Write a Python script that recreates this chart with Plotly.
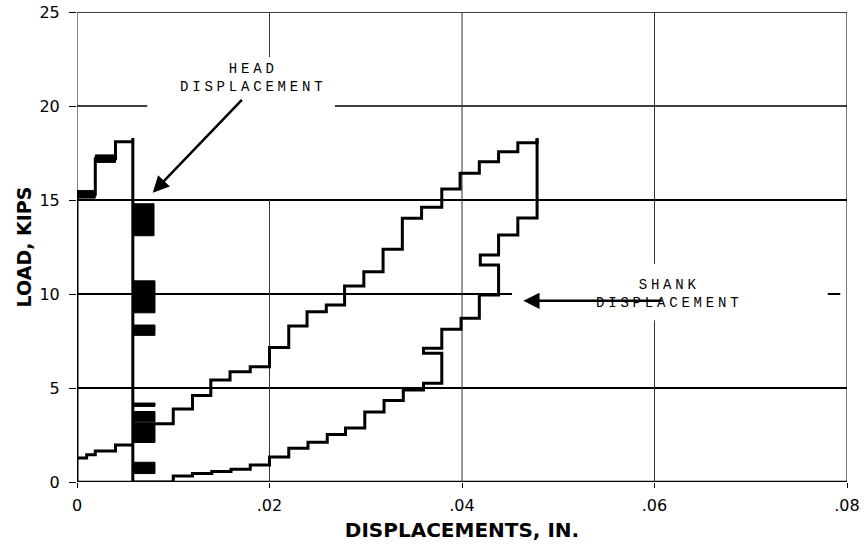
import plotly.graph_objects as go

# ---------------- data ----------------
x_tick_vals = [0, 0.02, 0.04, 0.06, 0.08]
x_tick_labels = ["0", ".02", ".04", ".06", ".08"]
y_tick_vals = [0, 5, 10, 15, 20, 25]
y_tick_labels = ["0", "5", "10", "15", "20", "25"]

# head displacement, loading branch (step points, drawn horizontal-then-vertical)
head_load_x = [0, 0, 0.0019, 0.0040, 0.0058, 0.0058]
head_load_y = [0, 15.3, 17.2, 18.1, 18.3, 0]

# head displacement, low-load branch
head_low_x = [0, 0.0010, 0.0019, 0.0040, 0.0058]
head_low_y = [1.27, 1.45, 1.65, 1.97, 1.97]

# shank displacement, loading branch
shank_load_x = [0.0081, 0.0100, 0.0120, 0.0139, 0.0159, 0.0180, 0.0200, 0.0220,
                0.0239, 0.0259, 0.0278, 0.0298, 0.0318, 0.0338, 0.0358, 0.0379,
                0.0398, 0.0418, 0.0438, 0.0458, 0.0478]
shank_load_y = [3.1, 3.88, 4.6, 5.42, 5.87, 6.13, 7.16, 8.3,
                9.06, 9.41, 10.43, 11.19, 12.38, 14.03, 14.61, 15.59,
                16.42, 17.04, 17.57, 18.05, 18.28]

# shank displacement, unloading branch
shank_unload_x = [0.0478, 0.0478, 0.0458, 0.0438, 0.0419, 0.0438, 0.0418, 0.0399,
                  0.0379, 0.0360, 0.0379, 0.0360, 0.0339, 0.0319, 0.0299, 0.0279,
                  0.0260, 0.0240, 0.0220, 0.0200, 0.0180, 0.0160, 0.0140, 0.0120,
                  0.0100, 0.0058]
shank_unload_y = [18.28, 14.04, 13.14, 12.07, 11.54, 9.95, 8.71, 8.12,
                  7.11, 6.85, 5.25, 4.9, 4.33, 3.72, 2.87, 2.52,
                  2.12, 1.8, 1.33, 0.9, 0.68, 0.56, 0.45, 0.32,
                  0.0, 0.0]

# dense (inked) segments of the recorded trace: x-from, x-to, load-from, load-to
blob_x0 = [0.0, 0.0019, 0.0059, 0.0059, 0.0059, 0.0059, 0.0059, 0.0059, 0.0059]
blob_x1 = [0.0019, 0.0040, 0.0080, 0.0081, 0.0081, 0.0081, 0.0081, 0.0081, 0.0081]
blob_y0 = [15.1, 17.0, 13.1, 9.0, 7.8, 4.02, 3.2, 2.1, 0.45]
blob_y1 = [15.5, 17.4, 14.8, 10.7, 8.35, 4.2, 3.75, 3.15, 1.05]

# ---------------- figure ----------------
fig = go.Figure()
ink = "#000000"
LW = 3

for xs, ys in [(head_load_x, head_load_y), (head_low_x, head_low_y),
               (shank_load_x, shank_load_y), (shank_unload_x, shank_unload_y)]:
    fig.add_trace(go.Scatter(x=xs, y=ys, mode="lines", line=dict(color=ink, width=LW, shape="hv"),
                             cliponaxis=False, showlegend=False, hoverinfo="skip"))

bx, by = [], []
for x0, x1, y0, y1 in zip(blob_x0, blob_x1, blob_y0, blob_y1):
    bx += [x0, x1, x1, x0, x0, None]
    by += [y0, y0, y1, y1, y0, None]
fig.add_trace(go.Scatter(x=bx, y=by, mode="lines", fill="toself", fillcolor=ink,
                         line=dict(color=ink, width=1), cliponaxis=False,
                         showlegend=False, hoverinfo="skip"))

# frame and grid segments (with the gaps seen in the original)
def seg(x0, y0, x1, y1, w, c="#000000"):
    fig.add_shape(type="line", xref="x", yref="y", x0=x0, y0=y0, x1=x1, y1=y1,
                  line=dict(color=c, width=w), layer="below")

seg(0, 25, 0.08, 25, 1.5)
seg(0.08, 0, 0.08, 25, 1.2, "#222")
seg(0, 0, 0, 25, 1.2, "#333")
seg(0, 0, 0.08, 0, 2.5)
seg(0, 20, 0.0073, 20, 1.5)
seg(0.0268, 20, 0.08, 20, 1.5)
seg(0, 15, 0.08, 15, 2)
seg(0, 10, 0.0452, 10, 2)
seg(0.0780, 10, 0.0793, 10, 2)
seg(0, 5, 0.08, 5, 2)
seg(0.02, 0, 0.02, 15, 1, "#333")
seg(0.02, 22.6, 0.02, 25, 1, "#333")
seg(0.04, 0, 0.04, 25, 1, "#333")
seg(0.06, 0, 0.06, 8.6, 1, "#333")
seg(0.06, 11.6, 0.06, 25, 1, "#333")

mono = dict(family="Liberation Mono", size=14, color=ink)
def label(txt, x, y):
    fig.add_annotation(x=x, y=y, xref="x", yref="y", showarrow=False,
                       text='<span style="letter-spacing:3.8px">' + txt + '</span>',
                       font=mono, xanchor="center", yanchor="middle", align="center")

label("HEAD<br>DISPLACEMENT", 0.01830, 21.5)
label("SHANK<br>DISPLACEMENT", 0.06150, 10.0)

fig.add_annotation(x=0.00787, y=15.39, ax=0.01728, ay=20.41, xref="x", yref="y",
                   axref="x", ayref="y", text="", showarrow=True, arrowhead=2,
                   arrowsize=1.3, arrowwidth=2.5, arrowcolor=ink)
fig.add_annotation(x=0.04637, y=9.64, ax=0.06091, ay=9.64, xref="x", yref="y",
                   axref="x", ayref="y", text="", showarrow=True, arrowhead=2,
                   arrowsize=1.3, arrowwidth=2.5, arrowcolor=ink)

tickfont = dict(family="DejaVu Sans", size=16, color=ink)
titlefont = dict(family="DejaVu Sans", size=20, color=ink, weight="bold")

fig.update_layout(
    width=864, height=550,
    margin=dict(l=77, r=17, t=12, b=68),
    paper_bgcolor="white", plot_bgcolor="white",
    xaxis=dict(range=[0, 0.08], tickvals=x_tick_vals, ticktext=x_tick_labels,
               ticks="outside", ticklen=5, tickwidth=1, tickcolor=ink,
               tickfont=tickfont, showgrid=False, zeroline=False, showline=False,
               ticklabelstandoff=4, automargin=False,
               title=dict(text="DISPLACEMENTS, IN.", font=titlefont, standoff=8)),
    yaxis=dict(range=[0, 25], tickvals=y_tick_vals, ticktext=y_tick_labels,
               ticks="outside", ticklen=7, tickwidth=1, tickcolor=ink,
               tickfont=tickfont, showgrid=False, zeroline=False, showline=False,
               ticklabelstandoff=6, automargin=False,
               title=dict(text="LOAD, KIPS", font=dict(family="DejaVu Sans", size=19,
                                                      color=ink, weight="bold"), standoff=2)),
)

# remove the default 8px page margin so the 864x550 figure fills the window exactly
fig.write_html("out.html", config={"displayModeBar": False},
               post_script="document.body.style.margin='0';document.body.style.overflow='hidden';")
